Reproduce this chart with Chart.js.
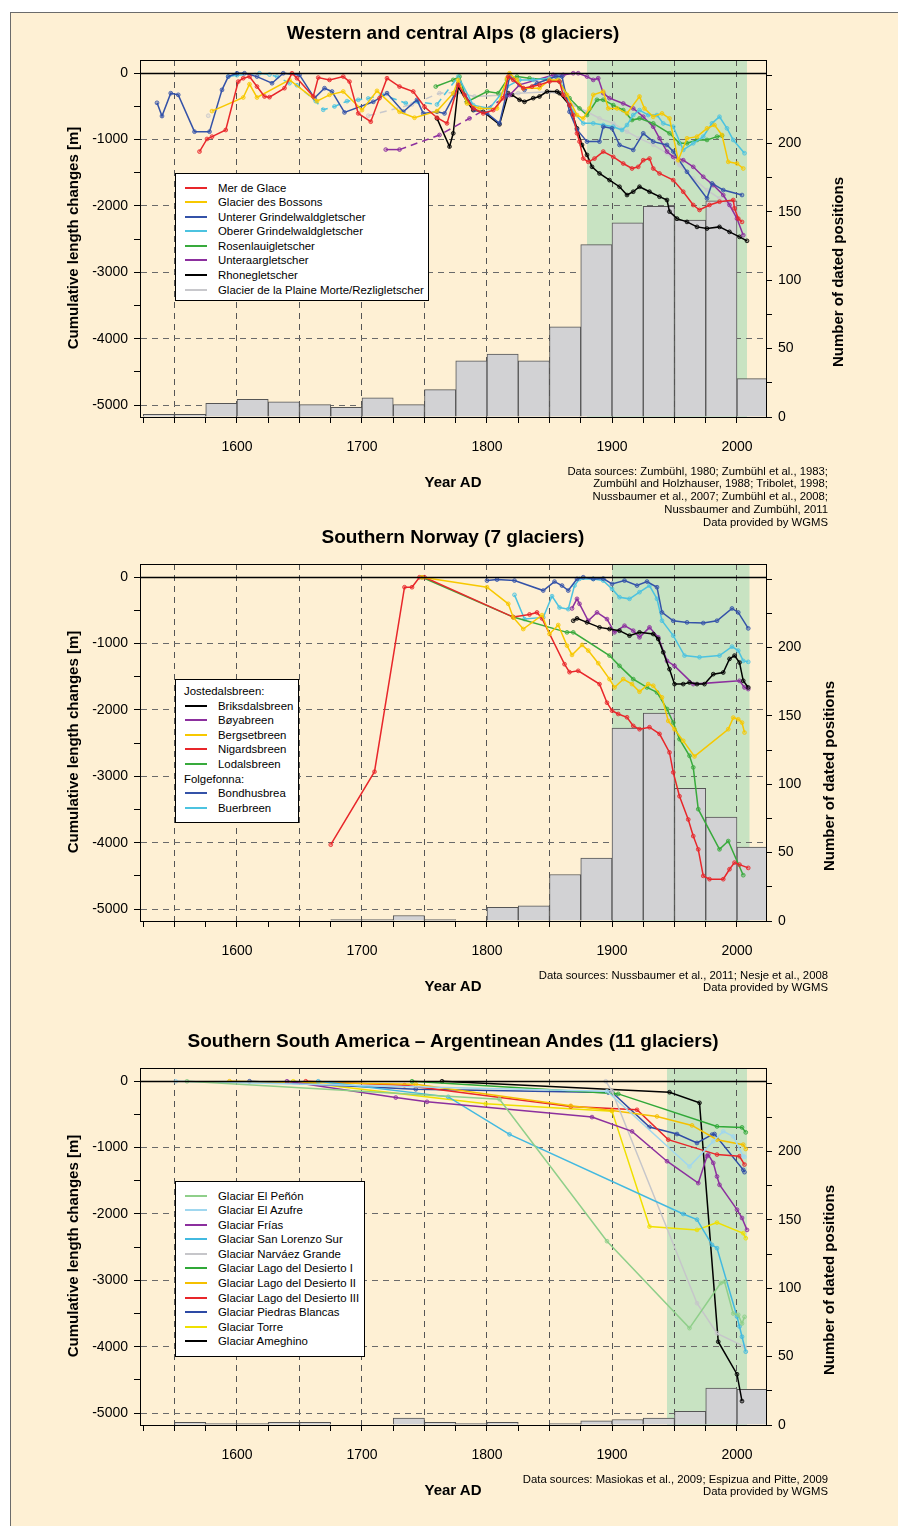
<!DOCTYPE html>
<html>
<head>
<meta charset="utf-8">
<script src="https://cdn.jsdelivr.net/npm/chart.js@4.4.1/dist/chart.umd.min.js"></script>
<style>
  body { margin: 0; width: 898px; height: 1526px; overflow: hidden; background: #fff;
         font-family: "Liberation Sans", Arial, Helvetica, sans-serif; color: #000; }
  #page { position: absolute; left: 10px; top: 12px; width: 900px; height: 1530px;
          background: #fef0d4; border: 1px solid #6b6b6b; }
  .panel { position: absolute; left: 0; width: 898px; height: 504px; }
  .panel canvas { position: absolute; left: 0; top: 0; }
  .title { position: absolute; left: 0; width: 906px; top: 22px; line-height: 22px;
           text-align: center; font-weight: bold; font-size: 19px; }
  .xtitle { position: absolute; left: 0; width: 906px; top: 473px; line-height: 18px;
            text-align: center; font-weight: bold; font-size: 15px; }
  .vtitle { position: absolute; width: 320px; height: 18px; line-height: 18px; text-align: center;
            font-weight: bold; font-size: 15px; transform: rotate(-90deg); white-space: nowrap; }
  .source { position: absolute; left: 328px; width: 500px; top: 464.5px; text-align: right;
            font-size: 11.3px; line-height: 12.9px; }
  .legend { position: absolute; background: #fff; border: 1px solid #000; box-sizing: border-box;
            font-size: 11.4px; }
  .legend .row { position: relative; height: 14.6px; line-height: 14.6px; white-space: nowrap; padding-left: 42px; }
  .legend .row.head { padding-left: 8px; }
  .legend .sw { position: absolute; left: 9px; top: 6px; width: 22px; height: 2px; }
</style>
</head>
<body>
<div id="page"></div>

<div class="panel" id="p1" style="top:0px">
  <canvas id="c1" width="898" height="504"></canvas>
  <div class="title">Western and central Alps (8 glaciers)</div>
  <div class="vtitle" style="left:-87px; top:229px">Cumulative length changes [m]</div>
  <div class="vtitle" style="left:678px; top:263px">Number of dated positions</div>
  <div class="xtitle">Year AD</div>
  <div class="source">Data sources: Zumbühl, 1980; Zumbühl et al., 1983;<br>Zumbühl and Holzhauser, 1988; Tribolet, 1998;<br>Nussbaumer et al., 2007; Zumbühl et al., 2008;<br>Nussbaumer and Zumbühl, 2011<br>Data provided by WGMS</div>
</div>

<div class="panel" id="p2" style="top:504px">
  <canvas id="c2" width="898" height="504"></canvas>
  <div class="title">Southern Norway (7 glaciers)</div>
  <div class="vtitle" style="left:-87px; top:229px">Cumulative length changes [m]</div>
  <div class="vtitle" style="left:669px; top:263px">Number of dated positions</div>
  <div class="xtitle">Year AD</div>
  <div class="source">Data sources: Nussbaumer et al., 2011; Nesje et al., 2008<br>Data provided by WGMS</div>
</div>

<div class="panel" id="p3" style="top:1008px">
  <canvas id="c3" width="898" height="504"></canvas>
  <div class="title">Southern South America – Argentinean Andes (11 glaciers)</div>
  <div class="vtitle" style="left:-87px; top:229px">Cumulative length changes [m]</div>
  <div class="vtitle" style="left:669px; top:263px">Number of dated positions</div>
  <div class="xtitle">Year AD</div>
  <div class="source">Data sources: Masiokas et al., 2009; Espizua and Pitte, 2009<br>Data provided by WGMS</div>
</div>

<script>
// histogram bins: 25-year bins starting at 1525
const binStarts = [1525, 1550, 1575, 1600, 1625, 1650, 1675, 1700, 1725, 1750,
                   1775, 1800, 1825, 1850, 1875, 1900, 1925, 1950, 1975, 2000];
const alpsCounts   = [2, 2, 10, 13, 11, 9, 7, 14, 9, 20, 41, 46, 41, 66, 126, 142, 154, 144, 158, 28];
const norwayCounts = [0, 0, 0, 0, 0, 0, 1, 1, 4, 1, 0, 10, 11, 34, 46, 141, 152, 97, 76, 54];
const andesCounts  = [0, 2, 1, 1, 2, 2, 0, 0, 5, 2, 1, 2, 0, 1, 3, 4, 5, 10, 27, 26];

// tick positions and labels
const xTickValues = [1525, 1550, 1575, 1600, 1625, 1650, 1675, 1700, 1725, 1750, 1775,
                     1800, 1825, 1850, 1875, 1900, 1925, 1950, 1975, 2000];
const xTickLabels = [1600, 1700, 1800, 1900, 2000];
const yTickValues = [-5000, -4500, -4000, -3500, -3000, -2500, -2000, -1500, -1000, -500, 0];
const yTickLabels = [0, -1000, -2000, -3000, -4000, -5000];
const y2TickValues = [0, 25, 50, 75, 100, 125, 150, 175, 200, 225, 250];
const y2TickLabels = [0, 50, 100, 150, 200];

// shaded period per panel
const alpsShade = [1880, 2008];
const norwayShade = [1900, 2010];
const andesShade = [1944, 2008];

// ---- Western and central Alps: [year, cumulative length change m]
const merDeGlace = [[1570,-1180],[1576,-990],[1580,-955],[1591,-855],[1601,-125],[1605,-75],[1610,-50],[1616,-200],[1622,-350],[1626,-360],[1638,-225],[1644,0],[1648,-75],[1661,-350],[1665,-65],[1674,-100],[1685,-50],[1690,-125],[1697,-605],[1707,-730],[1714,-375],[1720,-75],[1730,-200],[1741,-275],[1750,-505],[1760,-670],[1768,-755],[1777,-175],[1782,-325],[1789,-530],[1797,-605],[1805,-555],[1813,-375],[1817,-50],[1821,-100],[1829,-225],[1836,-200],[1842,-175],[1850,-125],[1858,-125],[1861,-325],[1866,-480],[1869,-630],[1872,-905],[1874,-1030],[1877,-1285],[1881,-1335],[1886,-1285],[1893,-1180],[1901,-1260],[1909,-1360],[1916,-1435],[1921,-1410],[1925,-1310],[1930,-1285],[1933,-1435],[1938,-1510],[1949,-1610],[1957,-1785],[1965,-1985],[1970,-2060],[1978,-1985],[1986,-1935],[1997,-1910],[1998,-2035],[2001,-2190],[2004,-2240]];
const glacierDesBossons = [[1580,-570],[1605,-365],[1610,-165],[1616,-365],[1642,-100],[1664,-420],[1674,-325],[1685,-275],[1700,-555],[1712,-265],[1730,-580],[1742,-670],[1760,-570],[1773,-300],[1777,-100],[1784,-455],[1794,-530],[1808,-530],[1816,-75],[1818,0],[1824,-100],[1829,-225],[1842,-225],[1850,-100],[1857,-100],[1864,-325],[1872,-630],[1877,-680],[1882,-530],[1885,-325],[1893,-275],[1897,-530],[1904,-530],[1912,-605],[1922,-350],[1926,-530],[1933,-655],[1940,-605],[1946,-680],[1953,-1310],[1960,-980],[1968,-955],[1976,-830],[1982,-780],[1988,-930],[1993,-1335],[2000,-1360],[2005,-1435]];
const untererGrindelwald = [[1536,-445],[1540,-645],[1547,-300],[1553,-325],[1566,-880],[1578,-880],[1588,-250],[1593,-50],[1600,0],[1606,0],[1616,-50],[1628,-150],[1637,0],[1650,-25],[1662,-375],[1670,-225],[1676,-275],[1686,-590],[1709,-430],[1720,-300],[1733,-580],[1744,-400],[1749,-605],[1760,-580],[1766,-605],[1774,-325],[1777,-150],[1790,-550],[1800,-600],[1810,-755],[1815,-350],[1818,-50],[1830,-250],[1840,-150],[1855,-50],[1860,-50],[1866,-580],[1872,-850],[1880,-1030],[1890,-1030],[1893,-805],[1900,-830],[1906,-1080],[1917,-1155],[1925,-905],[1933,-1030],[1944,-1080],[1949,-1180],[1960,-1485],[1976,-1885],[1980,-1660],[1989,-1760],[2004,-1835]];
const obererGrindelwald = [[1593,-50],[1600,-30],[1618,0],[1626,-20],[1632,-50],[1642,-150],[1648,-180],[1663,-420],[1669,-550],[1678,-500],[1688,-420],[1697,-400],[1705,-380],[1716,-320],[1735,-450],[1745,-430],[1760,-470],[1777,-50],[1789,-480],[1802,-530],[1816,-200],[1826,-100],[1837,-100],[1850,-75],[1857,-50],[1864,-375],[1869,-580],[1877,-755],[1885,-755],[1893,-780],[1901,-805],[1908,-855],[1912,-780],[1917,-630],[1922,-555],[1929,-630],[1936,-630],[1941,-755],[1949,-805],[1957,-1155],[1965,-1055],[1973,-955],[1980,-755],[1986,-655],[1992,-830],[1997,-1005],[2006,-1205]];
const rosenlaui = [[1759,-200],[1773,-100],[1778,-50],[1784,-430],[1800,-275],[1809,-300],[1816,-100],[1824,-50],[1834,-75],[1850,-100],[1858,-125],[1866,-375],[1874,-530],[1880,-630],[1888,-400],[1893,-400],[1901,-480],[1909,-555],[1916,-705],[1922,-680],[1933,-755],[1946,-905],[1954,-1055],[1960,-1055],[1968,-1005],[1976,-1005],[1984,-955],[1988,-940]];
const unteraar = [[1719,-1150],[1730,-1150],[1762,-930],[1786,-680],[1818,-330],[1826,-175],[1853,-25],[1861,-25],[1869,0],[1873,0],[1880,-50],[1885,-100],[1889,-75],[1893,-300],[1898,-375],[1909,-455],[1917,-530],[1925,-655],[1933,-805],[1938,-980],[1944,-1180],[1949,-1260],[1957,-1310],[1965,-1410],[1973,-1560],[1981,-1685],[1989,-1835],[1994,-1985],[2000,-2190],[2005,-2440]];
const rhone = [[1760,-680],[1770,-1105],[1773,-905],[1777,-200],[1784,-430],[1789,-555],[1797,-580],[1810,-770],[1817,-300],[1820,-325],[1826,-400],[1830,-430],[1837,-375],[1842,-350],[1848,-275],[1856,-275],[1858,-300],[1866,-480],[1872,-830],[1876,-1080],[1880,-1230],[1884,-1410],[1890,-1510],[1898,-1610],[1906,-1710],[1912,-1835],[1917,-1785],[1922,-1710],[1930,-1785],[1938,-1860],[1944,-1910],[1946,-2085],[1952,-2190],[1960,-2240],[1968,-2315],[1976,-2340],[1986,-2315],[1994,-2390],[2002,-2465],[2008,-2525]];
const plaineMorte = [[1577,-640],[1640,null],[1705,-640],[1740,-470],[1762,-300],[1776,-290],[1790,-350],[1810,-330],[1825,-300],[1850,-280],[1861,-325],[1869,-480],[1880,-580],[1890,-680],[1901,-755],[1912,-880],[1922,-980],[1933,-1080],[1944,-1205],[1954,-1385],[1965,-1585],[1976,-1760],[1986,-1885],[1997,-2035],[2001,-2115]];

// ---- Southern Norway
const briksdalsbreen = [[1869,-655],[1872,-620],[1880,-680],[1890,-755],[1898,-780],[1906,-805],[1914,-880],[1922,-830],[1933,-855],[1937,-930],[1941,-1130],[1946,-1385],[1950,-1610],[1957,-1610],[1962,-1585],[1968,-1610],[1974,-1610],[1981,-1460],[1989,-1435],[1994,-1230],[1998,-1180],[2002,-1285],[2005,-1560],[2009,-1660]];
const boyabreen = [[1868,-470],[1872,-325],[1874,-400],[1881,-655],[1888,-530],[1896,-630],[1902,-830],[1910,-730],[1917,-805],[1922,-905],[1930,-755],[1937,-905],[1944,-1260],[1950,-1335],[1965,-1610],[2002,-1560],[2006,-1660],[2009,-1685]];
const bergsetbreen = [[1748,0],[1800,-150],[1817,-400],[1821,-605],[1829,-780],[1844,-570],[1850,-855],[1857,-720],[1864,-1030],[1868,-1170],[1876,-1020],[1881,-1105],[1889,-1295],[1898,-1535],[1902,-1660],[1909,-1535],[1916,-1610],[1922,-1725],[1929,-1610],[1933,-1635],[1940,-1810],[1945,-2165],[1950,-2290],[1957,-2465],[1966,-2700],[1993,-2290],[1997,-2115],[2001,-2140],[2004,-2190],[2006,-2340]];
const nigardsbreen = [[1675,-4030],[1710,-2930],[1734,-150],[1740,-150],[1746,0],[1750,0],[1821,-600],[1834,-560],[1840,-530],[1844,-620],[1862,-1310],[1866,-1430],[1873,-1410],[1890,-1610],[1896,-1890],[1900,-2010],[1905,-2060],[1912,-2110],[1917,-2240],[1922,-2290],[1930,-2260],[1938,-2360],[1946,-2640],[1949,-2940],[1954,-3300],[1961,-3650],[1965,-3900],[1969,-4100],[1973,-4500],[1978,-4550],[1989,-4550],[1994,-4400],[1998,-4300],[2002,-4330],[2009,-4380]];
const lodalsbreen = [[1748,0],[1821,-600],[1864,-830],[1869,-830],[1898,-1180],[1906,-1335],[1917,-1535],[1928,-1660],[1936,-1735],[1944,-1985],[1949,-2190],[1954,-2440],[1962,-2690],[1965,-2865],[1969,-3495],[1986,-4100],[1993,-3975],[2005,-4490]];
const bondhusbrea = [[1800,-50],[1808,-35],[1822,-50],[1845,-200],[1854,-65],[1860,-125],[1865,-200],[1872,-25],[1877,0],[1885,-25],[1893,-20],[1900,-100],[1910,-50],[1920,-125],[1928,-65],[1936,-150],[1940,-530],[1949,-655],[1960,-680],[1973,-690],[1984,-655],[1996,-470],[2001,-530],[2009,-770]];
const buerbreen = [[1822,-265],[1830,-630],[1845,-605],[1852,-285],[1858,-455],[1865,-480],[1870,-125],[1874,-25],[1885,-25],[1893,-50],[1900,-175],[1906,-300],[1914,-325],[1922,-225],[1930,-125],[1936,-325],[1940,-655],[1949,-880],[1958,-1180],[1970,-1205],[1986,-1180],[1996,-1045],[2001,-1105],[2005,-1260],[2009,-1275]];

// ---- Southern South America
const elPenon = [[1560,0],[1810,-270],[1896,-2410],[1962,-3720],[1987,-3040],[1990,-3020],[1997,-3500],[2001,-3520],[2004,-3650],[2006,-3550]];
const elAzufre = [[1551,0],[1896,-150],[1962,-1285],[1981,-905],[1989,-755],[1997,-830],[2005,-1130],[2006,-1140]];
const frias = [[1640,0],[1727,-245],[1752,-310],[1884,-540],[1916,-755],[1944,-1205],[1969,-1535],[1976,-1130],[1977,-1105],[1981,-1230],[1984,-1435],[1986,-1560],[2000,-1935],[2004,-2060],[2008,-2240]];
const sanLorenzoSur = [[1665,0],[1769,-235],[1818,-800],[1957,-2000],[1968,-2085],[1980,-2465],[1984,-2515],[2000,-3545],[2002,-3695],[2004,-3850],[2007,-4075]];
const narvaezGrande = [[1895,0],[1900,-150],[1968,-3345],[1984,-3800],[2006,-4000]];
const lagoDesierto1 = [[1740,0],[1901,-185],[1905,-190],[1984,-680],[2004,-695],[2007,-770]];
const lagoDesierto2 = [[1594,0],[1743,-45],[1867,-370],[1900,-440],[1936,-530],[1964,-665],[1984,-880],[2005,-955],[2007,-1020]];
const lagoDesierto3 = [[1655,0],[1734,-60],[1867,-380],[1920,-430],[1945,-880],[1984,-1105],[2002,-1130],[2006,-1255]];
const piedrasBlancas = [[1610,0],[1743,-120],[1897,-170],[1900,-165],[1930,-690],[1952,-795],[1968,-930],[1980,-805],[1982,-795],[2005,-1335],[2006,-1370]];
const torre = [[1645,0],[1799,-340],[1900,-450],[1930,-2190],[1968,-2240],[1984,-2130],[2005,-2290],[2007,-2365]];
const ameghino = [[1764,0],[1946,-165],[1970,-325],[1985,-3925],[2000,-4415],[2004,-4820]];

const FONT = '"Liberation Sans", Arial, Helvetica, sans-serif';

const alpsSeries = [
  { label: 'Mer de Glace', color: '#e8262a', data: merDeGlace },
  { label: 'Glacier des Bossons', color: '#f7c800', data: glacierDesBossons },
  { label: 'Unterer Grindelwaldgletscher', color: '#3452a8', data: untererGrindelwald },
  { label: 'Oberer Grindelwaldgletscher', color: '#4cc3e0', data: obererGrindelwald, dash: [1600, 1777] },
  { label: 'Rosenlauigletscher', color: '#38aa3c', data: rosenlaui },
  { label: 'Unteraargletscher', color: '#8c2f9e', data: unteraar, dash: [1730, 1818] },
  { label: 'Rhonegletscher', color: '#000000', data: rhone },
  { label: 'Glacier de la Plaine Morte/Rezligletscher', color: '#c8c8cc', data: plaineMorte, dash: [1705, 1776] }
];
const norwaySeries = [
  { heading: 'Jostedalsbreen:' },
  { label: 'Briksdalsbreen', color: '#000000', data: briksdalsbreen },
  { label: 'Bøyabreen', color: '#8c2f9e', data: boyabreen },
  { label: 'Bergsetbreen', color: '#f7c800', data: bergsetbreen },
  { label: 'Nigardsbreen', color: '#e8262a', data: nigardsbreen },
  { label: 'Lodalsbreen', color: '#38aa3c', data: lodalsbreen },
  { heading: 'Folgefonna:' },
  { label: 'Bondhusbrea', color: '#3452a8', data: bondhusbrea },
  { label: 'Buerbreen', color: '#4cc3e0', data: buerbreen }
];
const andesSeries = [
  { label: 'Glaciar El Peñón', color: '#8fcf8a', data: elPenon },
  { label: 'Glaciar El Azufre', color: '#a0d7ef', data: elAzufre },
  { label: 'Glaciar Frías', color: '#8c2f9e', data: frias },
  { label: 'Glaciar San Lorenzo Sur', color: '#42b9e0', data: sanLorenzoSur },
  { label: 'Glaciar Narváez Grande', color: '#c6c6ca', data: narvaezGrande },
  { label: 'Glaciar Lago del Desierto I', color: '#30a838', data: lagoDesierto1 },
  { label: 'Glaciar Lago del Desierto II', color: '#f5c000', data: lagoDesierto2 },
  { label: 'Glaciar Lago del Desierto III', color: '#e8262a', data: lagoDesierto3 },
  { label: 'Glaciar Piedras Blancas', color: '#2d4aa5', data: piedrasBlancas },
  { label: 'Glaciar Torre', color: '#efe000', data: torre },
  { label: 'Glaciar Ameghino', color: '#000000', data: ameghino }
];

function alpha(hex, a) {
  const n = parseInt(hex.slice(1), 16);
  return 'rgba(' + (n >> 16) + ',' + ((n >> 8) & 255) + ',' + (n & 255) + ',' + a + ')';
}

// shaded period + zero line + frame
const framePlugin = {
  id: 'frame',
  beforeDraw(chart, args, opts) {
    const { ctx, chartArea: a, scales } = chart;
    const x0 = scales.x.getPixelForValue(opts.shade[0]);
    const x1 = scales.x.getPixelForValue(opts.shade[1]);
    ctx.save();
    ctx.fillStyle = '#c8e3c2';
    ctx.fillRect(x0, a.top, x1 - x0, a.bottom - a.top);
    ctx.restore();
  },
  afterDraw(chart) {
    const { ctx, chartArea: a, scales } = chart;
    const y0 = Math.round(scales.y.getPixelForValue(0)) + 0.5;
    ctx.save();
    ctx.strokeStyle = '#000';
    ctx.lineWidth = 1.3;
    ctx.beginPath();
    ctx.moveTo(a.left, y0);
    ctx.lineTo(a.right, y0);
    ctx.stroke();
    ctx.lineWidth = 1;
    ctx.strokeRect(Math.round(a.left) + 0.5, Math.round(a.top) + 0.5,
                   Math.round(a.right - a.left), Math.round(a.bottom - a.top));
    ctx.restore();
  }
};

function fixedTicks(values) {
  return scale => { scale.ticks = values.map(v => ({ value: v })); };
}

function makeChart(canvasId, series, counts, shade) {
  const datasets = [];
  series.filter(s => !s.heading).forEach(s => {
    datasets.push({
      type: 'line',
      label: s.label,
      data: s.data.map(p => ({ x: p[0], y: p[1] })),
      yAxisID: 'y',
      borderColor: s.color,
      backgroundColor: alpha(s.color, 0.45),
      borderWidth: 1.5,
      pointRadius: 1.9,
      pointBorderWidth: 0.8,
      pointBorderColor: s.color,
      pointBackgroundColor: alpha(s.color, 0.35),
      tension: 0,
      spanGaps: false,
      order: 1,
      segment: s.dash ? {
        borderDash: c => (c.p0.parsed.x >= s.dash[0] && c.p1.parsed.x <= s.dash[1]) ? [7, 5] : undefined
      } : undefined
    });
  });
  datasets.push({
    type: 'bar',
    label: 'dated positions',
    data: counts.map((c, i) => ({ x: binStarts[i] + 12.5, y: c })),
    yAxisID: 'y2',
    backgroundColor: '#d2d2d4',
    borderColor: '#555555',
    borderWidth: 1,
    borderSkipped: 'bottom',
    barPercentage: 1,
    categoryPercentage: 1,
    grouped: false,
    order: 100
  });

  const tickFont = { family: FONT, size: 14 };
  return new Chart(document.getElementById(canvasId), {
    type: 'line',
    data: { datasets },
    plugins: [framePlugin],
    options: {
      responsive: false,
      animation: false,
      devicePixelRatio: 1,
      layout: { padding: { top: 60, left: 0, right: 0, bottom: 0 } },
      plugins: { legend: { display: false }, tooltip: { enabled: false }, frame: { shade } },
      scales: {
        x: {
          type: 'linear', min: 1522.4, max: 2023.2, offset: false, z: 1,
          afterBuildTicks: fixedTicks(xTickValues),
          afterFit: s => { s.height = 87; },
          ticks: {
            autoSkip: false, maxRotation: 0, padding: 16,
            color: '#000', font: tickFont,
            callback: v => xTickLabels.includes(v) ? String(v) : ''
          },
          grid: {
            offset: false, tickLength: 6, tickColor: '#000', lineWidth: 1,
            color: c => (c.tick && c.tick.value % 50 === 0) ? '#555' : 'rgba(0,0,0,0)'
          },
          border: { display: true, color: '#000', dash: [6, 5] }
        },
        y: {
          type: 'linear', position: 'left', min: -5180, max: 200, z: 1,
          afterBuildTicks: fixedTicks(yTickValues),
          afterFit: s => { s.width = 140; },
          ticks: {
            autoSkip: false, padding: 6, color: '#000', font: tickFont,
            callback: v => yTickLabels.includes(v) ? String(v) : ''
          },
          grid: {
            tickLength: 6, tickColor: '#000', lineWidth: 1,
            color: c => (c.tick && c.tick.value < 0 && c.tick.value % 1000 === 0) ? '#6a6a6a' : 'rgba(0,0,0,0)'
          },
          border: { display: true, color: '#000', dash: [6, 5] }
        },
        y2: {
          type: 'linear', position: 'right', min: 0, max: 261, z: 1,
          afterBuildTicks: fixedTicks(y2TickValues),
          afterFit: s => { s.width = 132; },
          ticks: {
            autoSkip: false, padding: 6, color: '#000', font: tickFont,
            callback: v => y2TickLabels.includes(v) ? String(v) : ''
          },
          grid: { drawOnChartArea: false, tickLength: 6, tickColor: '#000' },
          border: { display: true, color: '#000' }
        }
      }
    }
  });
}

function makeLegend(panelId, series, box) {
  const div = document.createElement('div');
  div.className = 'legend';
  div.style.left = box.left + 'px';
  div.style.top = box.top + 'px';
  div.style.width = box.width + 'px';
  div.style.height = box.height + 'px';
  div.style.paddingTop = box.padTop + 'px';
  series.forEach(s => {
    const row = document.createElement('div');
    row.className = s.heading ? 'row head' : 'row';
    if (!s.heading) {
      const sw = document.createElement('span');
      sw.className = 'sw';
      sw.style.background = s.color;
      row.appendChild(sw);
    }
    row.appendChild(document.createTextNode(s.heading || s.label));
    div.appendChild(row);
  });
  document.getElementById(panelId).appendChild(div);
}

makeChart('c1', alpsSeries, alpsCounts, alpsShade);
makeChart('c2', norwaySeries, norwayCounts, norwayShade);
makeChart('c3', andesSeries, andesCounts, andesShade);

makeLegend('p1', alpsSeries, { left: 175, top: 173, width: 254, height: 128, padTop: 6.5 });
makeLegend('p2', norwaySeries, { left: 175, top: 175, width: 124, height: 144, padTop: 4 });
makeLegend('p3', andesSeries, { left: 175, top: 173, width: 190, height: 176, padTop: 6.5 });
</script>
</body>
</html>
